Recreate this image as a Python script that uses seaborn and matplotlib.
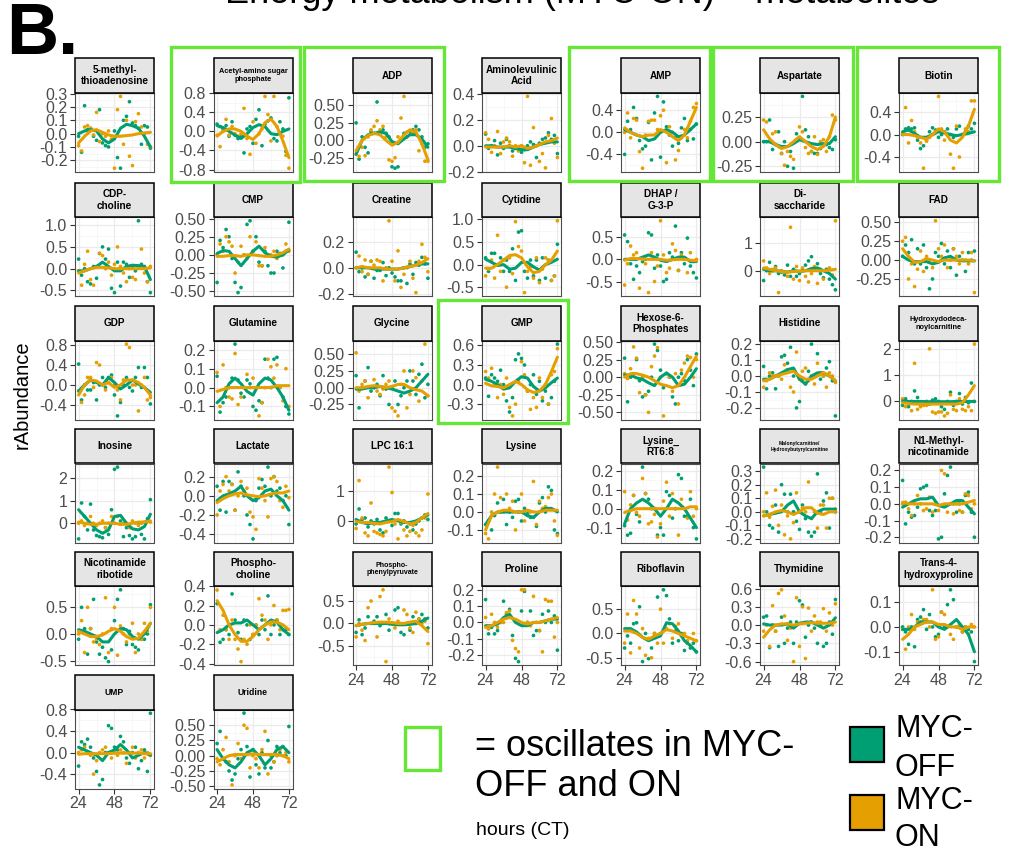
import matplotlib
matplotlib.use("Agg")
import matplotlib.pyplot as plt
from matplotlib.patches import Rectangle
import numpy as np
import pandas as pd
import seaborn as sns

sns.set_theme(style="white")
plt.rcParams["font.family"] = ["Liberation Sans", "DejaVu Sans"]

# ---------------------------------------------------------------- data
hours = list(range(24, 73, 2))        # sampling times (CT)
fit_hours = list(range(24, 73, 4))    # smoothed trend evaluation points

metabolites = [
    "5-methyl-thioadenosine", "Acetyl-amino sugar phosphate", "ADP", "Aminolevulinic Acid",
    "AMP", "Aspartate", "Biotin",
    "CDP-choline", "CMP", "Creatine", "Cytidine", "DHAP / G-3-P", "Di-saccharide", "FAD",
    "GDP", "Glutamine", "Glycine", "GMP", "Hexose-6-Phosphates", "Histidine",
    "Hydroxydodecanoylcarnitine",
    "Inosine", "Lactate", "LPC 16:1", "Lysine", "Lysine_RT6:8",
    "Malonylcarnitine/Hydroxybutyrylcarnitine", "N1-Methyl-nicotinamide",
    "Nicotinamide ribotide", "Phospho-choline", "Phospho-phenylpyruvate", "Proline",
    "Riboflavin", "Thymidine", "Trans-4-hydroxyproline",
    "UMP", "Uridine",
]

strip_labels = {
    "5-methyl-thioadenosine": "5-methyl-\nthioadenosine",
    "Acetyl-amino sugar phosphate": "Acetyl-amino sugar\nphosphate",
    "Aminolevulinic Acid": "Aminolevulinic\nAcid",
    "CDP-choline": "CDP-\ncholine",
    "DHAP / G-3-P": "DHAP /\nG-3-P",
    "Di-saccharide": "Di-\nsaccharide",
    "Hexose-6-Phosphates": "Hexose-6-\nPhosphates",
    "Hydroxydodecanoylcarnitine": "Hydroxydodeca-\nnoylcarnitine",
    "Lysine_RT6:8": "Lysine_\nRT6:8",
    "Malonylcarnitine/Hydroxybutyrylcarnitine": "Malonylcarnitine/\nHydroxybutyrylcarnitine",
    "N1-Methyl-nicotinamide": "N1-Methyl-\nnicotinamide",
    "Nicotinamide ribotide": "Nicotinamide\nribotide",
    "Phospho-choline": "Phospho-\ncholine",
    "Phospho-phenylpyruvate": "Phospho-\nphenylpyruvate",
    "Trans-4-hydroxyproline": "Trans-4-\nhydroxyproline",
}

oscillating = ["Acetyl-amino sugar phosphate", "ADP", "AMP", "Aspartate", "Biotin", "GMP"]

y_ticks = {
    "5-methyl-thioadenosine": ["-0.2", "-0.1", "0.0", "0.1", "0.2", "0.3"],
    "Acetyl-amino sugar phosphate": ["-0.8", "-0.4", "0.0", "0.4", "0.8"],
    "ADP": ["-0.25", "0.00", "0.25", "0.50"],
    "Aminolevulinic Acid": ["-0.2", "0.0", "0.2", "0.4"],
    "AMP": ["-0.4", "0.0", "0.4"],
    "Aspartate": ["-0.25", "0.00", "0.25"],
    "Biotin": ["-0.4", "0.0", "0.4"],
    "CDP-choline": ["-0.5", "0.0", "0.5", "1.0"],
    "CMP": ["-0.50", "-0.25", "0.00", "0.25", "0.50"],
    "Creatine": ["-0.2", "0.0", "0.2"],
    "Cytidine": ["-0.5", "0.0", "0.5", "1.0"],
    "DHAP / G-3-P": ["-0.5", "0.0", "0.5"],
    "Di-saccharide": ["0", "1"],
    "FAD": ["-0.25", "0.00", "0.25", "0.50"],
    "GDP": ["-0.4", "0.0", "0.4", "0.8"],
    "Glutamine": ["-0.1", "0.0", "0.1", "0.2"],
    "Glycine": ["-0.25", "0.00", "0.25", "0.50"],
    "GMP": ["-0.3", "0.0", "0.3", "0.6"],
    "Hexose-6-Phosphates": ["-0.50", "-0.25", "0.00", "0.25", "0.50"],
    "Histidine": ["-0.2", "-0.1", "0.0", "0.1", "0.2"],
    "Hydroxydodecanoylcarnitine": ["0", "1", "2"],
    "Inosine": ["0", "1", "2"],
    "Lactate": ["-0.4", "-0.2", "0.0", "0.2"],
    "LPC 16:1": ["0", "1"],
    "Lysine": ["-0.1", "0.0", "0.1", "0.2"],
    "Lysine_RT6:8": ["-0.1", "0.0", "0.1", "0.2"],
    "Malonylcarnitine/Hydroxybutyrylcarnitine": ["-0.2", "-0.1", "0.0", "0.1", "0.2", "0.3"],
    "N1-Methyl-nicotinamide": ["-0.2", "-0.1", "0.0", "0.1", "0.2"],
    "Nicotinamide ribotide": ["-0.5", "0.0", "0.5"],
    "Phospho-choline": ["-0.4", "-0.2", "0.0", "0.2", "0.4"],
    "Phospho-phenylpyruvate": ["-0.5", "0.0", "0.5"],
    "Proline": ["-0.2", "-0.1", "0.0", "0.1", "0.2"],
    "Riboflavin": ["-0.5", "0.0", "0.5"],
    "Thymidine": ["-0.6", "-0.3", "0.0", "0.3", "0.6"],
    "Trans-4-hydroxyproline": ["-0.1", "0.0", "0.1"],
    "UMP": ["-0.4", "0.0", "0.4", "0.8"],
    "Uridine": ["-0.50", "-0.25", "0.00", "0.25", "0.50"],
}

# relative abundance, MYC-OFF samples
off_points = {
    "5-methyl-thioadenosine": [-0.02, -0.14, 0.21, 0.03, 0.04, -0.02, -0.05, 0.18, -0.07, -0.09, -0.1, -0.05, 0.02, -0.18, -0.26, 0.1, 0.13, 0.24, 0.08, 0.06, 0.04, -0.08, 0.06, 0.05, -0.11],
    "Acetyl-amino sugar phosphate": [0.15, 0.1, 0.05, 0.12, -0.1, 0.2, -0.08, -0.15, -0.1, -0.45, 0.05, 0.1, -0.25, 0.25, 0.45, -0.3, 0.15, 0.22, 0.28, -0.15, -0.2, 0.2, 0.05, -0.42, 0.7],
    "ADP": [0.25, -0.27, 0.05, -0.1, -0.18, 0.12, 0.1, 0.55, 0.12, 0.15, 0.1, 0.05, -0.38, -0.4, -0.38, 0.0, 0.1, 0.05, 0.12, 0.15, 0.2, 0.15, 0.05, -0.1, -0.05],
    "Aminolevulinic Acid": [0.09, -0.02, 0.0, 0.04, -0.07, 0.02, -0.02, 0.05, 0.0, -0.04, -0.02, -0.02, -0.05, -0.03, 0.0, 0.03, 0.01, -0.09, 0.02, 0.05, 0.06, 0.1, 0.05, 0.08, -0.06],
    "AMP": [-0.4, 0.2, 0.05, 0.45, 0.25, -0.15, -0.3, -0.25, 0.18, -0.5, 0.35, 0.65, -0.45, 0.55, 0.1, -0.05, -0.25, -0.1, -0.2, 0.08, 0.25, -0.15, 0.05, -0.12, 0.15],
    "Aspartate": [0.0, 0.0, 0.22, -0.08, -0.03, 0.1, -0.12, 0.0, -0.25, -0.1, -0.27, 0.08, 0.04, 0.46, 0.12, 0.05, -0.1, -0.12, -0.12, -0.07, -0.03, -0.03, -0.06, -0.08, 0.02],
    "Biotin": [0.0, 0.1, 0.12, 0.1, 0.12, -0.1, -0.25, -0.2, -0.1, 0.05, 0.12, 0.08, -0.05, 0.0, 0.05, 0.1, 0.0, -0.05, 0.1, 0.15, 0.0, 0.05, 0.15, 0.1, 0.2],
    "CDP-choline": [0.22, -0.15, 0.0, -0.3, -0.35, 0.05, -0.22, 0.35, 0.5, 0.22, 0.45, -0.45, -0.55, 0.15, -0.4, 0.15, 0.1, -0.2, 0.05, -0.05, 1.1, 0.1, 0.05, -0.3, -0.55],
    "CMP": [-0.38, 0.2, 0.1, 0.35, 0.25, -0.05, -0.38, -0.52, -0.45, 0.0, 0.42, 0.47, 0.05, 0.25, -0.1, -0.15, 0.05, -0.15, -0.25, -0.25, 0.05, 0.02, -0.18, 0.05, 0.45],
    "Creatine": [0.12, -0.03, 0.0, -0.07, -0.05, 0.05, -0.08, -0.02, -0.02, 0.04, -0.06, 0.0, -0.04, -0.07, -0.1, -0.1, 0.0, -0.12, 0.03, -0.05, 0.04, 0.02, 0.08, 0.03, -0.08],
    "Cytidine": [0.15, -0.15, 0.25, 0.25, 0.0, 0.15, -0.15, 0.1, -0.15, 0.35, -0.35, 0.72, 0.75, -0.15, -0.3, 0.1, -0.25, 0.1, -0.35, 0.15, -0.3, 0.1, -0.35, -0.25, 0.45],
    "DHAP / G-3-P": [0.55, 0.4, -0.1, -0.45, -0.15, -0.3, -0.05, 0.0, 0.6, 0.55, -0.2, 0.1, -0.15, -0.5, -0.45, 0.15, 0.05, 0.75, -0.25, 0.15, -0.1, 0.48, -0.15, -0.3, -0.42],
    "Di-saccharide": [-0.35, 0.0, 0.3, 0.0, 0.15, -0.1, -0.05, -0.15, 0.2, -0.2, 0.05, -0.2, -0.1, 0.0, 0.2, 0.35, 0.5, 0.05, 0.25, -0.1, -0.25, 0.05, -0.3, -0.5, -0.68],
    "FAD": [0.05, 0.2, 0.1, 0.27, -0.05, 0.15, -0.05, 0.2, -0.1, -0.38, -0.25, 0.1, 0.05, 0.22, -0.05, 0.12, -0.1, 0.15, -0.2, 0.05, 0.0, -0.15, 0.1, 0.0, 0.12],
    "GDP": [0.42, -0.3, 0.0, -0.1, -0.1, 0.05, -0.3, 0.0, 0.15, -0.05, 0.15, 0.2, -0.2, -0.62, -0.35, 0.0, 0.15, -0.05, -0.12, 0.15, 0.35, -0.05, 0.35, 0.15, -0.38],
    "Glutamine": [0.06, -0.13, -0.08, -0.05, 0.0, 0.05, 0.23, 0.04, -0.03, -0.05, 0.04, 0.02, -0.1, -0.12, -0.07, -0.08, 0.15, 0.05, 0.0, 0.15, 0.16, 0.0, -0.05, -0.1, -0.14],
    "Glycine": [0.18, -0.3, 0.0, 0.1, 0.3, -0.05, 0.0, 0.05, -0.12, 0.18, -0.02, -0.25, 0.0, 0.1, -0.25, -0.12, 0.0, 0.1, 0.25, 0.1, -0.1, 0.2, 0.35, -0.15, 0.05],
    "GMP": [0.1, -0.18, 0.15, 0.1, 0.05, 0.22, 0.0, -0.25, -0.42, -0.2, 0.38, 0.47, 0.4, 0.3, -0.1, 0.0, 0.15, -0.15, 0.05, -0.25, -0.1, -0.3, -0.2, 0.05, 0.62],
    "Hexose-6-Phosphates": [0.27, -0.35, 0.0, 0.05, 0.25, -0.05, -0.28, -0.25, -0.2, 0.0, 0.47, 0.38, 0.1, -0.15, 0.05, 0.0, -0.28, -0.38, 0.0, 0.05, -0.05, 0.25, 0.1, -0.12, 0.33],
    "Histidine": [0.06, -0.08, 0.0, 0.02, -0.08, 0.0, 0.12, 0.13, 0.08, 0.18, 0.0, -0.2, -0.16, -0.02, -0.05, 0.03, 0.2, 0.0, 0.14, -0.02, 0.0, 0.05, 0.09, -0.03, -0.25],
    "Hydroxydodecanoylcarnitine": [-0.15, 0.1, -0.2, 0.0, 0.4, 0.15, -0.15, -0.05, 0.0, -0.1, 0.05, 0.1, 0.0, -0.2, -0.3, 0.0, 0.35, -0.15, 0.0, 0.3, -0.1, 0.15, -0.05, 0.7, 0.0],
    "Inosine": [-0.7, 0.9, 0.3, -0.3, 0.85, -0.3, -0.55, -0.6, -0.65, -0.2, -0.5, 0.6, 2.4, 2.5, 0.1, -0.6, -0.2, -0.55, -0.7, -0.6, 0.0, -0.5, -0.7, 0.2, 1.05],
    "Lactate": [0.1, -0.15, 0.15, -0.17, 0.15, 0.12, -0.15, 0.25, 0.1, 0.0, -0.2, -0.3, -0.45, -0.05, 0.08, 0.17, 0.1, 0.3, 0.0, 0.2, 0.05, 0.08, -0.05, 0.0, -0.3],
    "LPC 16:1": [-0.1, 0.4, 0.05, 0.1, -0.2, 0.0, -0.1, 0.05, -0.3, -0.4, 0.1, 0.0, -0.15, 0.25, 0.25, -0.1, 0.0, -0.2, -0.1, -0.3, -0.1, 0.0, 0.1, 0.2, 0.05],
    "Lysine": [-0.07, -0.05, -0.1, -0.02, 0.05, 0.0, 0.07, -0.07, 0.0, -0.03, 0.06, 0.07, -0.05, 0.02, -0.01, -0.03, -0.03, -0.08, 0.05, 0.08, 0.0, 0.14, 0.12, -0.1, -0.12],
    "Lysine_RT6:8": [-0.09, -0.14, -0.13, 0.07, -0.03, -0.07, 0.22, 0.08, 0.05, 0.0, 0.0, -0.14, -0.1, -0.14, 0.09, 0.07, -0.05, 0.0, 0.18, 0.16, -0.04, -0.04, 0.05, -0.1, -0.16],
    "Malonylcarnitine/Hydroxybutyrylcarnitine": [0.33, 0.0, -0.1, -0.12, 0.05, -0.15, 0.2, 0.13, 0.0, 0.13, 0.0, -0.07, -0.13, 0.05, -0.05, -0.15, -0.18, -0.15, 0.28, 0.0, 0.08, 0.14, -0.12, 0.1, 0.0],
    "N1-Methyl-nicotinamide": [0.14, -0.12, -0.05, -0.08, -0.07, -0.02, 0.09, 0.1, 0.11, -0.04, -0.07, -0.04, -0.21, -0.2, 0.06, 0.17, 0.22, 0.0, -0.05, 0.0, -0.05, 0.05, 0.07, -0.05, -0.2],
    "Nicotinamide ribotide": [-0.1, 0.5, 0.1, -0.38, 0.1, 0.65, -0.15, -0.38, -0.25, -0.45, -0.52, -0.3, 0.25, 0.65, 0.83, 0.1, -0.2, 0.05, -0.2, -0.25, -0.3, -0.1, -0.1, 0.0, 0.55],
    "Phospho-choline": [0.22, -0.18, -0.15, -0.05, -0.1, 0.32, 0.05, -0.08, -0.15, 0.05, 0.0, -0.15, -0.1, 0.0, -0.1, 0.05, -0.05, 0.3, -0.1, 0.0, 0.05, -0.1, -0.05, -0.05, -0.1],
    "Phospho-phenylpyruvate": [-0.2, 0.08, -0.25, -0.1, 0.15, 0.0, 0.05, 0.15, -0.05, 0.0, 0.2, -0.15, 0.0, 0.3, 0.35, -0.2, -0.25, 0.0, -0.15, 0.15, 0.0, 0.1, 0.2, 0.1, -0.1],
    "Proline": [0.14, -0.07, -0.03, -0.07, -0.05, 0.0, 0.13, 0.05, 0.08, -0.08, -0.22, -0.24, 0.07, 0.19, 0.0, 0.07, -0.08, -0.05, -0.05, 0.05, 0.0, 0.07, 0.0, 0.04, -0.17],
    "Riboflavin": [-0.3, -0.05, -0.2, 0.2, 0.22, 0.55, -0.58, 0.0, -0.52, -0.3, 0.0, 0.75, 0.0, 0.9, 0.78, 0.3, -0.2, 0.05, -0.15, 0.0, -0.35, -0.2, -0.3, -0.2, -0.38],
    "Thymidine": [0.13, 0.15, -0.37, 0.0, -0.1, -0.35, 0.13, -0.3, -0.05, 0.05, -0.3, 0.05, 0.4, 0.33, -0.2, 0.0, 0.05, -0.05, -0.3, 0.0, -0.35, -0.3, 0.05, -0.15, 0.42],
    "Trans-4-hydroxyproline": [0.0, -0.02, -0.07, 0.0, -0.08, 0.03, 0.04, 0.07, -0.01, 0.05, 0.0, -0.04, -0.03, 0.06, 0.0, 0.09, 0.15, 0.11, 0.0, 0.0, -0.02, 0.0, -0.01, -0.02, -0.14],
    "UMP": [-0.25, 0.2, 0.15, 0.25, 0.1, -0.1, -0.35, -0.6, -0.5, 0.0, 0.5, 0.45, 0.1, 0.05, 0.3, 0.2, -0.1, -0.2, 0.0, 0.1, -0.3, -0.15, 0.05, -0.35, 0.73],
    "Uridine": [0.2, 0.4, -0.05, -0.1, -0.25, -0.4, -0.3, -0.05, 0.1, 0.7, 0.15, -0.35, 0.1, -0.15, -0.3, 0.05, -0.2, 0.25, -0.2, -0.1, 0.15, 0.05, 0.15, 0.0, 0.48],
}

# relative abundance, MYC-ON samples
on_points = {
    "5-methyl-thioadenosine": [-0.09, -0.13, 0.05, 0.06, 0.04, -0.01, 0.16, -0.06, 0.0, -0.02, 0.02, -0.04, -0.26, 0.18, 0.28, -0.08, 0.1, -0.17, -0.24, 0.09, 0.15, 0.05, 0.0, -0.08, -0.1],
    "Acetyl-amino sugar phosphate": [-0.08, -0.32, 0.0, 0.25, -0.08, 0.1, -0.05, -0.1, -0.05, 0.48, -0.15, -0.48, 0.2, -0.25, -0.05, 0.05, 0.73, 0.35, -0.2, 0.73, 0.1, -0.05, -0.1, -0.5, -0.77],
    "ADP": [-0.2, -0.23, -0.1, -0.22, 0.05, 0.15, 0.2, 0.28, 0.15, 0.2, 0.05, -0.28, -0.3, -0.25, 0.05, 0.32, 0.63, 0.12, 0.14, 0.1, 0.15, -0.15, -0.05, -0.3, -0.3],
    "Aminolevulinic Acid": [0.1, 0.05, -0.05, 0.0, 0.11, -0.06, 0.03, 0.06, 0.03, -0.08, 0.0, -0.04, 0.0, -0.13, 0.38, -0.15, 0.14, 0.0, -0.12, -0.06, -0.17, 0.08, 0.21, 0.02, -0.09],
    "AMP": [0.0, 0.35, -0.1, 0.25, 0.22, -0.35, -0.65, -0.05, 0.2, 0.22, 0.22, 0.05, 0.3, 0.4, -0.55, 0.1, 0.0, -0.5, -0.33, -0.1, 0.05, -0.1, 0.2, 0.45, 0.52],
    "Aspartate": [0.22, 0.2, 0.0, 0.08, 0.1, -0.05, -0.12, -0.24, -0.1, -0.15, -0.18, 0.02, 0.15, 0.1, -0.06, -0.12, -0.1, 0.05, -0.13, 0.0, 0.02, -0.1, 0.05, 0.27, 0.22],
    "Biotin": [0.03, 0.48, -0.15, 0.25, 0.05, -0.05, -0.15, -0.6, -0.12, -0.05, 0.0, 0.05, 0.68, 0.1, -0.1, 0.0, -0.35, -0.6, 0.15, -0.4, 0.0, 0.1, 0.05, 0.6, 0.6],
    "CDP-choline": [-0.05, -0.38, 0.1, 0.4, -0.25, -0.38, 0.05, 0.35, 0.3, 0.0, 0.15, -0.15, 0.1, 0.5, 0.05, -0.1, -0.3, 0.0, -0.2, -0.25, 0.05, 0.45, -0.1, -0.3, 0.05],
    "CMP": [0.0, 0.15, 0.05, 0.25, 0.18, 0.12, -0.25, -0.1, 0.12, 0.0, -0.05, 0.25, 0.05, 0.18, -0.15, -0.15, 0.1, 0.0, 0.0, 0.05, -0.05, 0.0, 0.0, 0.15, 0.05],
    "Creatine": [0.0, 0.09, -0.03, 0.06, -0.05, 0.05, 0.02, 0.06, 0.05, -0.1, 0.0, 0.36, 0.05, -0.1, 0.13, -0.15, -0.05, 0.0, 0.05, -0.08, -0.19, 0.05, 0.18, 0.08, -0.03],
    "Cytidine": [-0.25, -0.1, 0.1, -0.3, 0.65, -0.15, 0.1, -0.5, 0.15, -0.2, 0.95, 0.4, 0.3, -0.62, -0.15, -0.05, -0.3, 0.15, -0.4, -0.1, 0.15, 0.1, -0.35, -0.25, 0.97],
    "DHAP / G-3-P": [-0.58, -0.1, 0.3, 0.1, 0.15, -0.65, 0.0, -0.1, -0.75, 0.15, -0.5, -0.15, 0.87, 0.1, -0.3, -0.2, 0.35, 0.2, -0.25, 0.1, 0.0, -0.3, 0.15, -0.05, 0.0],
    "Di-saccharide": [0.35, 0.1, -0.1, 0.05, 0.1, -0.78, 0.0, -0.05, -0.2, 1.55, -0.3, 0.15, -0.35, 0.1, -0.2, -0.4, -0.1, 0.15, -0.45, 0.05, -0.3, 0.0, 0.1, -0.15, 1.78],
    "FAD": [0.25, 0.3, -0.25, -0.05, -0.35, -0.12, 0.12, -0.15, 0.05, 0.0, -0.1, 0.52, 0.15, 0.05, 0.2, -0.1, 0.0, 0.15, 0.05, -0.05, 0.1, 0.0, -0.05, 0.1, -0.43],
    "GDP": [-0.12, -0.35, -0.2, 0.15, 0.15, -0.05, 0.45, 0.4, 0.0, -0.1, 0.05, 0.15, 0.0, -0.1, -0.3, 0.1, 0.82, 0.75, 0.0, 0.0, -0.52, 0.0, 0.15, -0.3, -0.25],
    "Glutamine": [0.08, -0.1, 0.12, 0.0, -0.05, -0.06, 0.18, -0.09, -0.05, 0.0, 0.07, 0.0, 0.05, 0.0, -0.15, -0.08, 0.0, 0.15, 0.11, 0.05, 0.12, 0.0, -0.07, 0.1, -0.1],
    "Glycine": [0.52, -0.05, 0.05, 0.1, -0.15, 0.0, 0.12, -0.05, -0.1, -0.02, 0.05, 0.1, -0.3, -0.35, -0.42, 0.05, 0.25, -0.3, -0.1, 0.25, 0.15, -0.2, 0.1, 0.65, -0.12],
    "GMP": [0.2, 0.1, 0.25, 0.0, -0.2, 0.0, -0.15, 0.1, -0.35, -0.48, -0.3, 0.05, 0.35, 0.15, -0.1, -0.38, -0.2, -0.35, 0.1, -0.2, 0.0, -0.3, 0.15, 0.2, 0.55],
    "Hexose-6-Phosphates": [0.05, -0.02, 0.12, 0.43, 0.27, -0.22, 0.0, -0.25, -0.5, 0.15, 0.3, 0.42, 0.0, -0.55, 0.05, 0.0, -0.2, 0.05, -0.38, 0.1, 0.2, 0.3, 0.28, 0.0, 0.25],
    "Histidine": [-0.07, -0.03, 0.02, 0.0, 0.0, 0.0, -0.02, 0.07, 0.04, -0.07, -0.1, 0.15, -0.02, 0.03, 0.05, -0.03, 0.0, -0.05, 0.08, 0.02, 0.0, -0.07, 0.02, 0.0, -0.04],
    "Hydroxydodecanoylcarnitine": [0.1, -0.2, -0.05, -0.35, 1.45, -0.3, -0.2, -0.15, -0.15, 2.0, -0.4, -0.45, -0.4, -0.4, -0.55, -0.45, 0.25, -0.3, -0.35, 0.1, -0.3, -0.35, -0.2, -0.35, 2.18],
    "Inosine": [0.0, 0.1, -0.1, 0.0, 0.3, 0.0, -0.1, 0.0, 0.1, -0.2, 0.0, 0.3, 0.0, 0.3, -0.05, 0.0, 0.0, -0.2, 0.1, 0.0, -0.1, 0.0, 0.05, 0.1, 0.05],
    "Lactate": [-0.2, 0.05, 0.12, 0.2, 0.05, 0.12, -0.15, 0.0, 0.15, 0.05, 0.08, -0.17, -0.22, -0.35, 0.18, 0.08, -0.05, -0.22, 0.18, 0.2, 0.15, -0.05, -0.12, 0.1, -0.02],
    "LPC 16:1": [-0.25, 1.35, 0.1, -0.4, -0.5, 0.6, -0.35, -0.4, -0.45, -0.5, -0.35, 1.8, 0.95, -0.1, -0.6, -0.05, -0.3, -0.5, -0.35, -0.15, -0.4, -0.5, -0.3, 0.1, 0.9],
    "Lysine": [-0.12, -0.15, 0.0, 0.1, 0.25, 0.08, 0.0, 0.1, 0.02, 0.06, -0.1, 0.0, 0.1, -0.05, -0.02, 0.0, 0.17, -0.07, 0.06, 0.02, 0.03, 0.08, 0.1, -0.05, -0.13],
    "Lysine_RT6:8": [0.09, -0.06, 0.02, 0.07, -0.02, -0.04, 0.16, 0.08, -0.08, -0.07, -0.03, -0.15, -0.08, 0.04, 0.14, -0.04, 0.08, 0.0, -0.14, 0.05, 0.0, -0.05, 0.09, -0.04, 0.0],
    "Malonylcarnitine/Hydroxybutyrylcarnitine": [0.0, 0.14, -0.04, 0.04, 0.16, -0.1, 0.05, -0.17, -0.03, -0.2, -0.08, 0.14, 0.0, 0.03, 0.0, 0.22, -0.05, 0.0, -0.12, 0.05, 0.05, -0.12, 0.1, 0.1, 0.02],
    "N1-Methyl-nicotinamide": [0.0, 0.01, -0.03, -0.07, 0.0, 0.05, 0.0, -0.04, -0.03, 0.04, -0.05, 0.0, -0.04, 0.2, 0.18, -0.05, 0.0, -0.06, 0.0, -0.04, -0.05, 0.06, 0.05, -0.03, 0.0],
    "Nicotinamide ribotide": [0.0, 0.25, -0.35, 0.5, 0.1, -0.15, -0.1, -0.2, 0.0, 0.68, -0.35, 0.1, 0.5, -0.4, 0.15, 0.0, -0.15, 0.0, 0.2, -0.35, 0.0, -0.1, 0.2, 0.05, 0.5],
    "Phospho-choline": [0.36, -0.05, 0.1, -0.05, -0.15, 0.05, -0.15, -0.25, -0.38, -0.15, -0.2, 0.0, -0.1, 0.0, 0.27, 0.1, 0.05, -0.15, 0.0, 0.2, 0.05, -0.05, 0.15, 0.15, 0.16],
    "Phospho-phenylpyruvate": [-0.3, 0.0, -0.15, -0.38, 0.35, 0.5, 0.0, -0.3, 0.6, 0.75, -0.85, 0.1, 0.0, -0.1, 0.05, 0.0, 0.3, 0.2, -0.1, -0.2, 0.25, 0.1, 0.0, 0.05, -0.45],
    "Proline": [0.03, -0.04, 0.05, 0.0, -0.03, 0.0, 0.0, 0.06, 0.07, -0.11, -0.16, -0.18, 0.2, 0.2, 0.0, -0.02, 0.16, 0.0, -0.05, -0.18, 0.14, 0.13, 0.13, -0.09, 0.0],
    "Riboflavin": [-0.2, 0.4, -0.4, 0.68, 0.4, -0.3, 0.1, -0.45, -0.1, -0.5, 0.0, -0.2, 0.5, -0.2, 0.1, 0.2, -0.1, 0.15, 0.2, -0.05, 0.0, -0.15, -0.25, 0.0, -0.15],
    "Thymidine": [-0.1, 0.0, -0.35, 0.32, -0.1, 0.52, 0.58, 0.15, -0.25, -0.05, -0.6, 0.45, -0.35, 0.3, -0.55, 0.28, -0.1, 0.15, 0.05, 0.05, 0.27, -0.1, 0.2, 0.0, 0.35],
    "Trans-4-hydroxyproline": [-0.01, -0.09, 0.0, 0.05, -0.01, 0.02, 0.02, 0.03, 0.03, 0.0, 0.15, -0.05, -0.04, 0.06, 0.05, 0.0, -0.03, -0.05, 0.0, 0.01, -0.02, 0.0, -0.03, 0.01, 0.0],
    "UMP": [0.0, 0.05, 0.1, 0.0, -0.05, -0.4, -0.15, 0.0, 0.05, 0.1, 0.0, -0.1, 0.0, -0.05, 0.05, 0.0, -0.2, 0.0, 0.1, -0.1, 0.0, 0.05, -0.1, 0.0, -0.05],
    "Uridine": [-0.05, -0.15, 0.1, 0.3, -0.1, -0.48, 0.0, 0.2, -0.05, 0.5, 0.45, -0.2, 0.0, -0.05, -0.2, 0.1, 0.4, -0.3, 0.0, -0.1, 0.0, 0.1, 0.0, 0.05, -0.1],
}

# smoothed trend, MYC-OFF
off_fit = {
    "5-methyl-thioadenosine": [0.0, 0.02, 0.03, 0.02, -0.04, -0.07, -0.04, 0.04, 0.07, 0.06, 0.04, -0.02, -0.1],
    "Acetyl-amino sugar phosphate": [0.12, 0.08, 0.0, -0.08, -0.15, -0.05, 0.08, 0.14, 0.1, -0.05, -0.07, 0.0, 0.05],
    "ADP": [-0.2, 0.0, 0.08, 0.1, 0.12, 0.1, -0.02, -0.05, 0.02, 0.08, 0.08, 0.02, -0.1],
    "Aminolevulinic Acid": [0.0, 0.0, -0.01, -0.01, -0.01, -0.02, -0.03, -0.03, -0.01, 0.01, 0.02, 0.03, 0.03],
    "AMP": [0.05, 0.0, -0.05, -0.08, -0.15, -0.12, 0.0, 0.05, 0.0, -0.08, -0.05, 0.05, 0.15],
    "Aspartate": [0.0, 0.0, -0.03, -0.05, -0.05, -0.02, 0.02, 0.0, -0.02, -0.03, -0.02, -0.02, 0.05],
    "Biotin": [0.05, 0.08, 0.02, -0.05, -0.05, 0.0, 0.05, 0.03, 0.0, -0.02, 0.0, 0.02, 0.05],
    "CDP-choline": [-0.05, -0.05, 0.0, 0.05, 0.15, 0.05, -0.05, -0.05, 0.05, 0.08, 0.07, 0.05, -0.25],
    "CMP": [0.02, 0.06, 0.05, -0.05, -0.15, -0.05, 0.05, 0.12, 0.03, -0.02, -0.03, 0.0, 0.07],
    "Creatine": [0.0, 0.0, 0.0, -0.01, -0.01, -0.01, -0.01, -0.01, 0.0, 0.01, 0.02, 0.03, 0.03],
    "Cytidine": [0.12, 0.05, -0.02, 0.0, -0.1, -0.08, 0.05, 0.05, -0.05, -0.12, 0.0, 0.05, 0.12],
    "DHAP / G-3-P": [0.0, 0.0, 0.0, 0.05, 0.1, 0.05, -0.02, -0.05, 0.0, 0.05, 0.05, -0.05, -0.05],
    "Di-saccharide": [0.05, 0.0, 0.0, -0.02, -0.05, 0.0, -0.02, 0.0, 0.08, 0.1, 0.0, -0.1, -0.3],
    "FAD": [0.05, 0.0, -0.02, -0.02, -0.02, -0.05, -0.03, 0.03, 0.05, 0.0, -0.01, -0.01, -0.01],
    "GDP": [-0.12, 0.0, 0.1, 0.05, 0.0, 0.15, 0.05, -0.08, 0.0, 0.1, 0.02, -0.05, -0.15],
    "Glutamine": [-0.08, -0.05, 0.02, 0.05, 0.02, -0.02, -0.04, 0.02, 0.05, 0.04, 0.0, -0.05, -0.12],
    "Glycine": [-0.02, -0.02, 0.0, 0.0, 0.02, 0.0, -0.02, -0.05, -0.08, -0.05, 0.0, 0.1, 0.2],
    "GMP": [0.08, 0.05, 0.0, -0.07, -0.05, 0.05, 0.12, 0.1, -0.03, -0.1, -0.05, 0.03, 0.1],
    "Hexose-6-Phosphates": [0.03, 0.03, -0.01, -0.03, -0.08, -0.12, 0.0, 0.06, 0.0, -0.12, -0.1, 0.0, 0.12],
    "Histidine": [-0.02, -0.02, 0.0, 0.02, 0.04, 0.05, -0.02, -0.05, 0.0, 0.02, 0.02, 0.0, -0.03],
    "Hydroxydodecanoylcarnitine": [0.02, 0.0, 0.0, 0.0, -0.01, -0.01, -0.01, -0.01, -0.01, 0.0, 0.0, 0.0, 0.0],
    "Inosine": [0.6, 0.3, 0.0, -0.3, -0.45, -0.3, 0.3, 0.35, 0.0, -0.25, -0.3, -0.15, 0.4],
    "Lactate": [-0.05, 0.0, 0.02, 0.05, 0.1, 0.0, -0.05, -0.02, 0.05, 0.07, 0.0, -0.05, -0.15],
    "LPC 16:1": [0.05, -0.05, -0.1, -0.05, -0.05, 0.0, 0.05, 0.0, -0.05, -0.05, 0.0, 0.1, 0.2],
    "Lysine": [-0.07, -0.02, 0.0, 0.0, 0.0, 0.0, 0.0, -0.02, -0.03, 0.0, 0.02, 0.02, 0.0],
    "Lysine_RT6:8": [-0.08, 0.0, 0.03, 0.05, 0.03, 0.0, -0.04, 0.0, 0.05, 0.03, 0.0, -0.05, -0.1],
    "Malonylcarnitine/Hydroxybutyrylcarnitine": [-0.03, -0.02, -0.01, 0.0, 0.05, 0.08, 0.0, -0.03, -0.05, 0.0, 0.02, 0.02, 0.02],
    "N1-Methyl-nicotinamide": [-0.02, 0.0, 0.02, 0.03, 0.03, 0.04, -0.01, -0.02, 0.0, 0.02, 0.02, -0.02, -0.06],
    "Nicotinamide ribotide": [0.08, 0.05, 0.0, -0.05, -0.15, -0.15, 0.0, 0.1, 0.08, -0.05, -0.1, 0.0, 0.2],
    "Phospho-choline": [-0.08, -0.05, 0.0, 0.02, 0.02, 0.05, 0.0, -0.05, 0.0, 0.05, 0.03, -0.05, -0.1],
    "Phospho-phenylpyruvate": [-0.05, -0.02, 0.0, 0.0, 0.0, 0.0, -0.02, -0.03, -0.03, -0.02, 0.0, 0.05, 0.12],
    "Proline": [-0.02, -0.02, -0.01, 0.03, 0.05, 0.0, -0.02, -0.02, 0.0, 0.0, 0.01, 0.02, 0.02],
    "Riboflavin": [0.1, 0.1, 0.03, -0.08, -0.15, -0.1, -0.05, 0.22, 0.2, 0.05, -0.15, -0.25, -0.38],
    "Thymidine": [0.02, 0.0, 0.0, 0.0, 0.02, -0.05, 0.03, 0.05, 0.05, 0.0, -0.05, 0.0, 0.12],
    "Trans-4-hydroxyproline": [-0.01, -0.01, 0.0, 0.02, 0.02, 0.02, 0.0, -0.01, 0.01, 0.03, 0.0, -0.03, -0.1],
    "UMP": [0.1, 0.05, 0.0, -0.05, -0.15, 0.0, 0.05, 0.15, 0.05, -0.1, -0.05, 0.0, -0.05],
    "Uridine": [0.1, -0.05, -0.15, -0.2, -0.1, 0.05, 0.1, 0.0, -0.15, -0.05, 0.1, 0.15, 0.05],
}

# smoothed trend, MYC-ON
on_fit = {
    "5-methyl-thioadenosine": [-0.07, -0.02, 0.02, 0.03, 0.01, -0.01, -0.02, -0.02, -0.015, -0.01, 0.0, 0.005, 0.01],
    "Acetyl-amino sugar phosphate": [-0.1, 0.0, 0.05, 0.05, 0.0, -0.1, -0.17, -0.05, 0.18, 0.26, 0.1, -0.2, -0.55],
    "ADP": [-0.15, 0.0, 0.07, 0.1, 0.08, 0.0, -0.07, -0.03, 0.08, 0.15, 0.12, -0.05, -0.28],
    "Aminolevulinic Acid": [-0.01, -0.01, -0.01, -0.01, 0.0, -0.01, 0.0, -0.02, -0.01, 0.01, 0.03, 0.04, 0.06],
    "AMP": [0.08, 0.0, -0.05, -0.08, -0.05, -0.05, 0.05, 0.0, -0.08, -0.15, -0.05, 0.2, 0.45],
    "Aspartate": [0.12, 0.03, -0.03, -0.07, -0.05, 0.0, 0.05, 0.0, -0.05, -0.08, -0.05, 0.05, 0.25],
    "Biotin": [0.0, 0.0, -0.02, -0.05, -0.08, 0.0, 0.1, 0.05, -0.1, -0.15, -0.05, 0.15, 0.45],
    "CDP-choline": [-0.1, -0.05, 0.0, 0.03, 0.03, 0.02, 0.0, 0.0, 0.0, 0.0, 0.0, 0.0, 0.02],
    "CMP": [-0.02, -0.02, -0.01, -0.01, -0.02, 0.0, 0.0, -0.01, -0.02, -0.02, 0.0, 0.03, 0.08],
    "Creatine": [0.0, 0.01, 0.0, 0.0, 0.0, -0.01, -0.01, -0.01, 0.0, 0.01, 0.02, 0.04, 0.07],
    "Cytidine": [-0.08, -0.08, 0.0, 0.1, 0.2, 0.22, 0.15, -0.05, -0.18, -0.15, 0.0, 0.1, 0.3],
    "DHAP / G-3-P": [-0.02, 0.02, 0.02, 0.01, 0.0, 0.0, 0.0, -0.02, -0.01, 0.0, 0.0, -0.02, -0.03],
    "Di-saccharide": [0.1, 0.05, 0.0, -0.03, -0.05, -0.03, -0.02, 0.0, 0.0, 0.0, 0.0, 0.02, 0.05],
    "FAD": [0.15, 0.05, -0.03, -0.02, 0.02, 0.0, -0.02, 0.0, 0.0, 0.0, 0.0, 0.0, -0.01],
    "GDP": [-0.2, 0.0, 0.1, 0.08, 0.0, 0.05, -0.05, 0.0, 0.1, 0.1, 0.05, -0.05, -0.2],
    "Glutamine": [-0.02, -0.01, 0.0, 0.0, 0.0, 0.0, 0.0, 0.0, 0.0, 0.0, 0.01, 0.01, 0.01],
    "Glycine": [0.0, 0.0, 0.02, 0.03, 0.02, 0.0, 0.02, 0.05, 0.05, 0.0, -0.03, -0.05, -0.12],
    "GMP": [0.02, -0.02, -0.03, -0.05, 0.0, 0.05, 0.0, -0.08, -0.12, -0.1, 0.0, 0.2, 0.42],
    "Hexose-6-Phosphates": [0.0, 0.05, 0.05, 0.03, 0.0, -0.05, -0.1, -0.12, -0.15, -0.12, 0.0, 0.15, 0.3],
    "Histidine": [-0.03, -0.02, 0.0, 0.01, 0.02, 0.03, 0.0, -0.02, -0.02, 0.0, 0.02, 0.0, -0.03],
    "Hydroxydodecanoylcarnitine": [-0.05, -0.08, -0.1, -0.1, -0.1, -0.1, -0.1, -0.1, -0.1, -0.1, -0.05, 0.25, 0.6],
    "Inosine": [0.05, 0.0, -0.05, -0.05, 0.0, 0.0, 0.0, -0.05, -0.05, 0.0, 0.05, 0.05, 0.1],
    "Lactate": [-0.07, -0.03, 0.0, 0.02, 0.03, 0.01, 0.0, -0.01, 0.0, 0.02, 0.03, 0.03, 0.05],
    "LPC 16:1": [-0.02, -0.05, -0.05, -0.08, -0.1, -0.05, -0.02, 0.05, -0.02, -0.1, -0.05, 0.1, 0.25],
    "Lysine": [-0.1, -0.02, 0.0, 0.01, 0.01, 0.0, 0.0, 0.01, 0.0, 0.0, 0.01, 0.01, 0.01],
    "Lysine_RT6:8": [-0.02, -0.01, 0.0, 0.0, 0.0, 0.0, 0.0, 0.0, 0.0, 0.0, 0.0, 0.01, 0.01],
    "Malonylcarnitine/Hydroxybutyrylcarnitine": [-0.03, -0.02, 0.0, 0.01, 0.0, -0.02, 0.0, 0.03, 0.03, -0.01, -0.02, 0.0, 0.0],
    "N1-Methyl-nicotinamide": [0.01, 0.0, 0.0, 0.0, 0.0, 0.0, -0.01, 0.0, 0.0, 0.0, 0.0, 0.01, 0.02],
    "Nicotinamide ribotide": [0.05, 0.0, -0.05, -0.05, -0.02, 0.05, 0.1, 0.05, -0.05, -0.1, -0.08, 0.05, 0.2],
    "Phospho-choline": [0.25, 0.15, 0.0, -0.1, -0.17, -0.17, -0.12, -0.05, 0.0, 0.03, 0.03, 0.0, -0.05],
    "Phospho-phenylpyruvate": [-0.05, -0.02, 0.0, 0.02, 0.03, 0.03, 0.02, 0.0, 0.0, 0.03, 0.05, -0.05, -0.18],
    "Proline": [-0.03, -0.02, 0.0, 0.02, 0.03, 0.02, 0.0, -0.01, 0.0, 0.0, 0.01, 0.02, 0.03],
    "Riboflavin": [0.05, 0.05, 0.0, -0.08, -0.12, -0.05, 0.0, 0.08, 0.05, 0.0, -0.05, -0.1, -0.15],
    "Thymidine": [-0.2, -0.08, 0.0, 0.02, 0.02, 0.0, 0.02, 0.03, 0.04, 0.03, 0.03, 0.03, 0.05],
    "Trans-4-hydroxyproline": [-0.05, -0.03, 0.0, 0.01, 0.02, 0.02, 0.01, 0.01, 0.0, 0.0, -0.01, 0.0, 0.0],
    "UMP": [-0.03, -0.02, -0.02, -0.02, -0.02, -0.02, -0.01, -0.01, -0.01, -0.01, -0.01, -0.02, -0.02],
    "Uridine": [-0.1, -0.05, 0.0, 0.02, 0.02, 0.02, 0.03, 0.02, 0.02, 0.02, 0.02, 0.0, -0.05],
}

conditions = ["MYC-OFF", "MYC-ON"]
condition_colors = {"MYC-OFF": "#009E73", "MYC-ON": "#E69F00"}

for name in metabolites:
    for table, n in ((off_points, len(hours)), (on_points, len(hours)),
                     (off_fit, len(fit_hours)), (on_fit, len(fit_hours))):
        if len(table[name]) != n:
            raise ValueError(f"{name}: expected {n} values, got {len(table[name])}")

# ---------------------------------------------------------------- layout (pixels)
W, H = 1011, 850
COL_LEFT = [75, 213.5, 352.5, 482, 621, 760, 899]
ROW_TOP = [58.3, 182.7, 306, 429, 551.7, 675]
PANEL_W, PANEL_H, STRIP_H = 79, 79, 34.5
N_COLS = 7

HIGHLIGHT = "#66E636"
strip_size = {
    "Acetyl-amino sugar phosphate": 5.3,
    "Hydroxydodecanoylcarnitine": 5.3,
    "Malonylcarnitine/Hydroxybutyrylcarnitine": 3.6,
    "Phospho-phenylpyruvate": 5.0,
    "UMP": 6.2,
    "Uridine": 6.2,
    "Trans-4-hydroxyproline": 7.0,
}
highlight_box = {  # left, top, right, bottom in pixels
    "Acetyl-amino sugar phosphate": (171, 47, 300, 182),
    "ADP": (304, 47, 444, 181),
    "AMP": (569, 47, 710, 181),
    "Aspartate": (713, 47, 853, 181),
    "Biotin": (857, 47, 999, 181),
    "GMP": (438, 300, 568, 423),
}

fig = plt.figure(figsize=(W / 100, H / 100), dpi=100)
fig.patch.set_facecolor("white")

n = len(metabolites)
last_in_col = {}
for i in range(n):
    last_in_col[i % N_COLS] = i

for i, name in enumerate(metabolites):
    row, col = divmod(i, N_COLS)
    left = COL_LEFT[col]
    top = ROW_TOP[row] + STRIP_H
    ax = fig.add_axes([left / W, 1 - (top + PANEL_H) / H, PANEL_W / W, PANEL_H / H])

    pts = pd.DataFrame({
        "hours": hours * 2,
        "rAbundance": off_points[name] + on_points[name],
        "condition": ["MYC-OFF"] * len(hours) + ["MYC-ON"] * len(hours),
    })
    fit = pd.DataFrame({
        "hours": fit_hours * 2,
        "rAbundance": off_fit[name] + on_fit[name],
        "condition": ["MYC-OFF"] * len(fit_hours) + ["MYC-ON"] * len(fit_hours),
    })

    sns.scatterplot(data=pts, x="hours", y="rAbundance", hue="condition",
                    hue_order=conditions, palette=condition_colors, s=7,
                    linewidth=0, ax=ax, legend=False, zorder=3)
    sns.lineplot(data=fit, x="hours", y="rAbundance", hue="condition",
                 hue_order=conditions, palette=condition_colors, linewidth=2.2,
                 ax=ax, legend=False, zorder=4)

    vals = np.array(pts["rAbundance"].tolist() + fit["rAbundance"].tolist())
    lo, hi = vals.min(), vals.max()
    pad = 0.05 * (hi - lo)
    ax.set_ylim(lo - pad, hi + pad)
    ax.set_xlim(24 - 2.4, 72 + 2.4)

    labels = y_ticks[name]
    ticks = [float(s) for s in labels]
    ax.set_yticks(ticks)
    ax.set_yticklabels(labels)
    step = ticks[1] - ticks[0]
    minor = [t + step / 2 for t in [ticks[0] - step] + ticks]
    ax.set_yticks([m for m in minor if lo - pad < m < hi + pad], minor=True)
    ax.set_xticks([24, 48, 72])
    ax.set_xticks([36, 60], minor=True)

    ax.set_facecolor("white")
    ax.grid(which="major", color="#EBEBEB", linewidth=0.9, zorder=0)
    ax.grid(which="minor", color="#F4F4F4", linewidth=0.5, zorder=0)
    ax.set_axisbelow(True)
    for sp in ax.spines.values():
        sp.set_visible(True)
        sp.set_color("#4D4D4D")
        sp.set_linewidth(0.8)

    ax.tick_params(axis="both", which="major", length=3.5, width=0.8, color="#333333",
                   labelsize=11.5, labelcolor="#4D4D4D", pad=2, direction="out")
    ax.tick_params(axis="both", which="minor", length=0)
    ax.tick_params(axis="x", bottom=True)
    ax.tick_params(axis="y", left=True)
    if i != last_in_col[col]:
        ax.tick_params(axis="x", bottom=False, labelbottom=False)
    ax.set_xlabel("")
    ax.set_ylabel("")

    # facet strip
    ax.add_patch(Rectangle((0, 1), 1, STRIP_H / PANEL_H, transform=ax.transAxes,
                           facecolor="#E5E5E5", edgecolor="black", linewidth=1.1,
                           clip_on=False, zorder=5))
    ax.text(0.5, 1 + STRIP_H / PANEL_H / 2, strip_labels.get(name, name),
            transform=ax.transAxes, ha="center", va="center",
            fontsize=strip_size.get(name, 7.2), fontweight="bold", color="black",
            linespacing=1.15, zorder=6)

# metabolites that oscillate in both conditions
for name in oscillating:
    x0, y0, x1, y1 = highlight_box[name]
    fig.add_artist(Rectangle((x0 / W, 1 - y1 / H), (x1 - x0) / W, (y1 - y0) / H,
                             transform=fig.transFigure, fill=False,
                             edgecolor=HIGHLIGHT, linewidth=2.4))

# axis titles and panel letter
fig.text(22 / W, 1 - 395 / H, "rAbundance", rotation=90, ha="center", va="center",
         fontsize=14.5, color="black")
fig.text(476 / W, 1 - 835 / H, "hours (CT)", ha="left", va="baseline",
         fontsize=14, color="black")
fig.text(6 / W, 1 - 54 / H, "B.", ha="left", va="baseline", fontsize=52,
         fontweight="bold", color="black")
fig.text(225 / W, 1 - 3 / H, "Energy metabolism (MYC-ON) \u2013 metabolites",
         ha="left", va="baseline", fontsize=26, color="black")

# legend: highlight meaning
fig.add_artist(Rectangle((405 / W, 1 - 770 / H), 35 / W, 43 / H,
                         transform=fig.transFigure, fill=False,
                         edgecolor=HIGHLIGHT, linewidth=2.4))
fig.text(475 / W, 1 - 756 / H, "= oscillates in MYC-", ha="left", va="baseline",
         fontsize=26, color="black")
fig.text(475 / W, 1 - 796 / H, "OFF and ON", ha="left", va="baseline",
         fontsize=26, color="black")

# legend: conditions
for cond, (sq_top, line1, line2) in zip(conditions,
                                        [(727, 737, 776), (795, 809, 846)]):
    fig.add_artist(Rectangle((850 / W, 1 - (sq_top + 35) / H), 34 / W, 35 / H,
                             transform=fig.transFigure,
                             facecolor=condition_colors[cond], edgecolor="black",
                             linewidth=1.6))
    first, second = cond.split("-")
    fig.text(895 / W, 1 - line1 / H, first + "-", ha="left", va="baseline",
             fontsize=22, color="black")
    fig.text(895 / W, 1 - line2 / H, second, ha="left", va="baseline",
             fontsize=22, color="black")

fig.savefig("out.png", dpi=100, facecolor="white")
